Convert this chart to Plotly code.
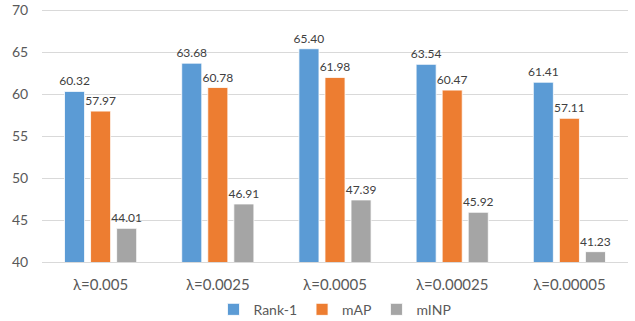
import plotly.graph_objects as go

categories = ["λ=0.005", "λ=0.0025", "λ=0.0005", "λ=0.00025", "λ=0.00005"]
rank1 = [60.32, 63.68, 65.40, 63.54, 61.41]
map_vals = [57.97, 60.78, 61.98, 60.47, 57.11]
minp = [44.01, 46.91, 47.39, 45.92, 41.23]

series = [
    ("Rank-1", rank1, "#5B9BD5"),
    ("mAP", map_vals, "#ED7D31"),
    ("mINP", minp, "#A5A5A5"),
]

fig = go.Figure()
for name, vals, color in series:
    fig.add_trace(go.Bar(
        name=name,
        x=categories,
        y=vals,
        marker=dict(color=color, line=dict(color="white", width=0.8)),
        text=[f"{v:.2f}" for v in vals],
        textposition="outside",
        textangle=0,
        constraintext="none",
        textfont=dict(size=12, color="#404040"),
        cliponaxis=False,
    ))

fig.update_layout(
    width=635, height=321,
    margin=dict(l=42, r=7, t=8, b=59, autoexpand=False),
    paper_bgcolor="white",
    plot_bgcolor="white",
    font=dict(family="Lato, Liberation Sans, sans-serif", color="#595959", size=13),
    barmode="group",
    bargap=0.333,
    bargroupgap=0.23,
    legend=dict(
        orientation="h",
        x=0.5, xanchor="center",
        yref="container",
        y=0.035, yanchor="middle",
        font=dict(size=14, color="#595959"),
        itemwidth=30,
        traceorder="normal",
    ),
    showlegend=True,
)
fig.update_yaxes(
    range=[40, 70.25],
    tickmode="array",
    tickvals=[40, 45, 50, 55, 60, 65, 70],
    ticktext=["40", "45", "50", "55", "60", "65", "70"],
    showgrid=True,
    gridcolor="#D9D9D9",
    gridwidth=1,
    zeroline=False,
    showline=False,
    ticks="outside",
    ticklen=10,
    tickcolor="rgba(0,0,0,0)",
    ticklabeloverflow="allow",
    tickfont=dict(size=14, color="#595959"),
)
fig.update_xaxes(
    showline=True,
    linecolor="#D9D9D9",
    linewidth=1,
    ticks="",
    ticklabelstandoff=9,
    tickfont=dict(size=15, color="#595959"),
)

fig.write_html("out.html")
